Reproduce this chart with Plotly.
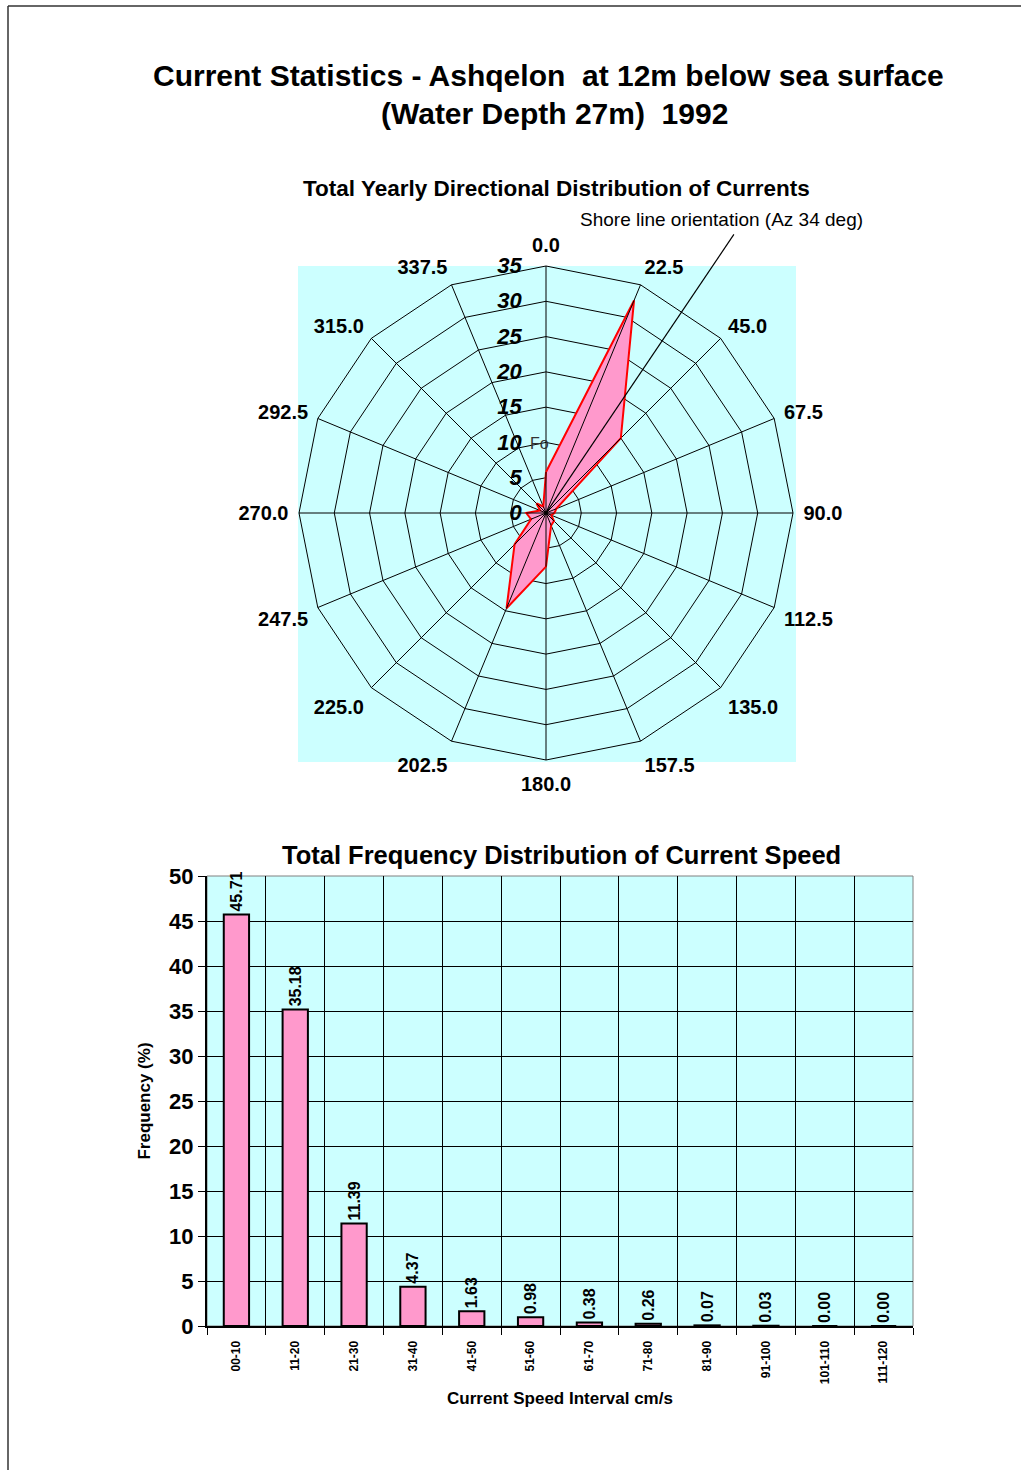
import math
import plotly.graph_objects as go

# ---- data -------------------------------------------------------------
directions = ["0.0", "22.5", "45.0", "67.5", "90.0", "112.5", "135.0", "157.5",
              "180.0", "202.5", "225.0", "247.5", "270.0", "292.5", "315.0", "337.5"]
dir_freq = [5.8, 32.6, 15.0, 1.6, 1.2, 0.8, 1.6, 1.9,
            7.6, 14.6, 6.3, 2.3, 2.8, 0.9, 1.9, 1.0]

speed_bins = ["00-10", "11-20", "21-30", "31-40", "41-50", "51-60",
              "61-70", "71-80", "81-90", "91-100", "101-110", "111-120"]
speed_freq = [45.71, 35.18, 11.39, 4.37, 1.63, 0.98,
              0.38, 0.26, 0.07, 0.03, 0.00, 0.00]

shore_azimuth = 34  # degrees

# ---- page geometry ----------------------------------------------------
W, H = 1021, 1470
FONT = "Liberation Sans, Arial, sans-serif"
CYAN = "#CCFFFF"
PINK = "#FF99CC"


def px(x):
    return x / W


def py(y):
    return 1 - y / H


# polar chart placement (pixels)
pc_x, pc_y, pr = 546, 513, 247
polar_dom_x = [px(pc_x - pr), px(pc_x + pr)]
polar_dom_y = [py(pc_y + pr), py(pc_y - pr)]

# bar chart plot area (pixels)
bx0, bx1, by0, by1 = 207, 913, 876, 1326

fig = go.Figure()

# ---- directional distribution (radar) ---------------------------------
fig.add_trace(go.Scatterpolar(
    r=dir_freq + [dir_freq[0]],
    theta=directions + [directions[0]],
    mode="lines",
    fill="toself",
    fillcolor=PINK,
    line=dict(color="#FF0000", width=2),
    subplot="polar",
    showlegend=False,
    hoverinfo="skip",
))
# spokes of the petals back to the centre
for d, v in zip(directions, dir_freq):
    fig.add_trace(go.Scatterpolar(
        r=[0, v], theta=[d, d], mode="lines",
        line=dict(color="#000000", width=1),
        subplot="polar", showlegend=False, hoverinfo="skip",
    ))

# ---- speed distribution (bars) -----------------------------------------
fig.add_trace(go.Bar(
    x=speed_bins,
    y=speed_freq,
    width=0.43,
    marker=dict(color=PINK, line=dict(color="#000000", width=2)),
    text=[f"{v:.2f}" for v in speed_freq],
    textposition="outside",
    textangle=-90,
    textfont=dict(family=FONT, size=16, color="#000000", weight="bold"),
    cliponaxis=False,
    xaxis="x", yaxis="y",
    showlegend=False,
))

# ---- shapes -------------------------------------------------------------
shapes = []
# page frame
shapes.append(dict(type="line", xref="paper", yref="paper",
                   x0=px(8), y0=py(6), x1=px(1030), y1=py(6),
                   line=dict(color="#333333", width=1.5)))
shapes.append(dict(type="line", xref="paper", yref="paper",
                   x0=px(8), y0=py(6), x1=px(8), y1=py(1480),
                   line=dict(color="#333333", width=1.5)))
# cyan plot area behind the radar
shapes.append(dict(type="rect", xref="paper", yref="paper",
                   x0=px(298), x1=px(796), y0=py(762), y1=py(266),
                   fillcolor=CYAN, line=dict(width=0), layer="below"))
# shore-line orientation line
L = 336
ang = math.radians(shore_azimuth)
shapes.append(dict(type="line", xref="paper", yref="paper",
                   x0=px(pc_x), y0=py(pc_y),
                   x1=px(pc_x + L * math.sin(ang)), y1=py(pc_y - L * math.cos(ang)),
                   line=dict(color="#000000", width=1.2), layer="above"))
# bar plot area outline (top/right)
shapes.append(dict(type="rect", xref="x domain", yref="y domain",
                   x0=0, x1=1, y0=0, y1=1,
                   line=dict(color="#808080", width=1), layer="below"))

# ---- annotations --------------------------------------------------------
def label(text, x, y, size, color="#000000"):
    return dict(text=text, x=px(x), y=py(y), xref="paper", yref="paper",
                xanchor="center", yanchor="middle", showarrow=False,
                font=dict(family=FONT, size=size, color=color))


ann = [
    label("<b>Current Statistics - Ashqelon  at 12m below sea surface</b>", 548, 76, 30),
    label("<b>(Water Depth 27m)  1992</b>", 554, 113, 30),
    label("<b>Total Yearly Directional Distribution of Currents</b>", 556, 188, 22.5),
    label("Shore line orientation (Az 34 deg)", 721, 219, 19),
    label("Fo", 539, 443, 16, "#333333"),
    label("<b>Total Frequency Distribution of Current Speed</b>", 561, 855, 25.5),
]

fig.update_layout(
    width=W, height=H,
    margin=dict(l=0, r=0, t=0, b=0, autoexpand=False),
    paper_bgcolor="#FFFFFF",
    plot_bgcolor=CYAN,
    font=dict(family=FONT, color="#000000"),
    shapes=shapes,
    annotations=ann,
    uniformtext=dict(minsize=16, mode="show"),
    polar=dict(
        domain=dict(x=polar_dom_x, y=polar_dom_y),
        bgcolor=CYAN,
        gridshape="linear",
        radialaxis=dict(
            range=[0, 35], dtick=5, angle=90, tickangle=90, side="counterclockwise",
            showline=False,
            ticks="outside", ticklen=16, tickcolor="rgba(0,0,0,0)",
            gridcolor="#000000", gridwidth=1,
            tickfont=dict(family=FONT, size=22, style="italic", weight="bold", color="#000000"),
        ),
        angularaxis=dict(
            type="category", categoryarray=directions,
            direction="clockwise", rotation=90,
            showline=True, linecolor="#000000", linewidth=1,
            gridcolor="#000000", gridwidth=1,
            ticks="outside", ticklen=6, tickcolor="rgba(0,0,0,0)",
            tickfont=dict(family=FONT, size=20, weight="bold", color="#000000"),
        ),
    ),
    xaxis=dict(
        domain=[px(bx0), px(bx1)],
        anchor="y",
        type="category",
        tickson="boundaries",
        ticks="outside", ticklen=7, tickcolor="#000000",
        ticklabelstandoff=8,
        showgrid=True, gridcolor="#000000", gridwidth=1,
        showline=True, linecolor="#000000", linewidth=2,
        tickangle=-90,
        tickfont=dict(family=FONT, size=12, weight="bold"),
        title=dict(text="<b>Current Speed Interval cm/s</b>", standoff=9,
                   font=dict(family=FONT, size=17)),
    ),
    yaxis=dict(
        domain=[py(by1), py(by0)],
        anchor="x",
        range=[0, 50], dtick=5,
        ticks="outside", ticklen=7, tickcolor="#000000",
        showgrid=True, gridcolor="#000000", gridwidth=1,
        showline=True, linecolor="#000000", linewidth=2,
        zeroline=False,
        tickfont=dict(family=FONT, size=22, weight="bold"),
        title=dict(text="<b>Frequency (%)</b>", standoff=14,
                   font=dict(family=FONT, size=17)),
    ),
)

fig.write_html("out.html")
